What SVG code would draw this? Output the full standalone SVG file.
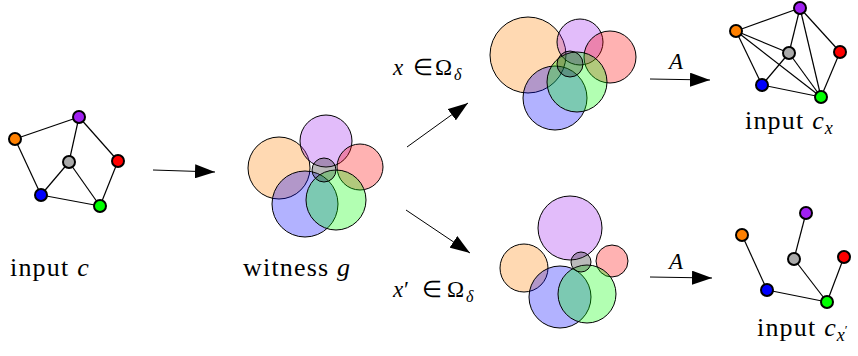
<svg xmlns="http://www.w3.org/2000/svg" width="858" height="356" viewBox="0 0 858 356">
<style>
.e{stroke:#000;stroke-width:1.2;fill:none}
.n{stroke:#000;stroke-width:2}
.c{stroke:#000;stroke-width:1;fill-opacity:0.3}
.a{stroke:#000;stroke-width:1;fill:none;marker-end:url(#ah)}
.t{fill:#000;font-family:'Liberation Serif',serif}
.i{font-style:italic}
.o{fill:#FF8000}.p{fill:#A020F0}.r{fill:#FF0000}.b{fill:#0000FF}.g{fill:#00FF00}.y{fill:#AAAAAA}
.yc{fill:#1A1A1A}
</style>
<defs>
<marker id="ah" markerUnits="userSpaceOnUse" markerWidth="22" markerHeight="14" refX="20" refY="7" orient="auto">
<path d="M0,0 L20,7 L0,14 Z" fill="#000"/>
</marker>
</defs>
<g id="connectors">
<line class="a" x1="153" y1="170" x2="215" y2="172"/>
<line class="a" x1="407" y1="147" x2="468" y2="103"/>
<line class="a" x1="406" y1="210" x2="470" y2="253"/>
<line class="a" x1="650" y1="79" x2="710" y2="80"/>
<line class="a" x1="650" y1="277" x2="712" y2="278"/>
</g>
<g id="input-c">
<g class="e">
<line x1="15" y1="139" x2="79" y2="117"/><line x1="15" y1="139" x2="41" y2="195"/>
<line x1="79" y1="117" x2="69" y2="162"/><line x1="79" y1="117" x2="118" y2="161"/>
<line x1="69" y1="162" x2="41" y2="195"/><line x1="69" y1="162" x2="100" y2="206"/>
<line x1="118" y1="161" x2="100" y2="206"/><line x1="41" y1="195" x2="100" y2="206"/>
</g>
<circle class="n o" cx="15" cy="139" r="6"/><circle class="n p" cx="79" cy="117" r="6"/>
<circle class="n y" cx="69" cy="162" r="6"/><circle class="n r" cx="118" cy="161" r="6"/>
<circle class="n b" cx="41" cy="195" r="6"/><circle class="n g" cx="100" cy="206" r="6"/>
<text class="t" x="10" y="276" font-size="26"><tspan letter-spacing="1.2">input </tspan><tspan class="i">c</tspan></text>
</g>
<g id="witness-g">
<circle class="c o" cx="279" cy="168" r="31"/>
<circle class="c p" cx="326" cy="141" r="26"/>
<circle class="c r" cx="360" cy="167" r="23"/>
<circle class="c b" cx="305" cy="204" r="33"/>
<circle class="c g" cx="336" cy="200" r="30"/>
<circle class="c yc" cx="324" cy="170" r="12"/>
<text class="t" x="243" y="276" font-size="26"><tspan letter-spacing="1.2">witness </tspan><tspan class="i">g</tspan></text>
</g>
<g id="label-x">
<text class="t" y="75" font-size="23"><tspan x="393" class="i">x</tspan><tspan x="413">∈</tspan><tspan x="435">Ω</tspan><tspan x="454" y="80" font-size="16" class="i">δ</tspan></text>
</g>
<g id="label-xp">
<text class="t" y="297" font-size="23"><tspan x="393" class="i">x</tspan><tspan x="404">′</tspan><tspan x="422">∈</tspan><tspan x="447">Ω</tspan><tspan x="466" y="302" font-size="16" class="i">δ</tspan></text>
</g>
<g id="config-x">
<circle class="c o" cx="528" cy="55" r="38"/>
<circle class="c p" cx="580" cy="42" r="23"/>
<circle class="c r" cx="610" cy="57" r="26"/>
<circle class="c b" cx="555" cy="98" r="32"/>
<circle class="c g" cx="577" cy="82" r="30"/>
<circle class="c yc" cx="570" cy="64" r="13"/>
</g>
<g id="config-xp">
<circle class="c p" cx="570" cy="228" r="32"/>
<circle class="c o" cx="524" cy="268" r="24"/>
<circle class="c r" cx="612" cy="261" r="16"/>
<circle class="c b" cx="560" cy="297" r="31"/>
<circle class="c g" cx="587" cy="294" r="29"/>
<circle class="c yc" cx="581" cy="262" r="10"/>
</g>
<g id="label-A-top"><text class="t i" x="669" y="69" font-size="23">A</text></g>
<g id="label-A-bottom"><text class="t i" x="669" y="269" font-size="23">A</text></g>
<g id="input-cx">
<g class="e">
<line x1="736" y1="31" x2="800" y2="8"/><line x1="736" y1="31" x2="762" y2="85"/>
<line x1="736" y1="31" x2="789" y2="53"/><line x1="736" y1="31" x2="821" y2="97"/>
<line x1="800" y1="8" x2="789" y2="53"/><line x1="800" y1="8" x2="821" y2="97"/>
<line x1="800" y1="8" x2="840" y2="52"/><line x1="840" y1="52" x2="821" y2="97"/>
<line x1="789" y1="53" x2="762" y2="85"/><line x1="789" y1="53" x2="821" y2="97"/>
<line x1="762" y1="85" x2="821" y2="97"/>
</g>
<circle class="n o" cx="736" cy="31" r="6"/><circle class="n p" cx="800" cy="8" r="6"/>
<circle class="n y" cx="789" cy="53" r="6"/><circle class="n r" cx="840" cy="52" r="6"/>
<circle class="n b" cx="762" cy="85" r="6"/><circle class="n g" cx="821" cy="97" r="6"/>
<text class="t" x="745" y="129" font-size="26"><tspan letter-spacing="1.2">input </tspan><tspan class="i">c</tspan><tspan class="i" font-size="18" dx="1" dy="5">x</tspan></text>
</g>
<g id="input-cxp">
<g class="e">
<line x1="806" y1="213" x2="794" y2="259"/><line x1="742" y1="235" x2="767" y2="290"/>
<line x1="794" y1="259" x2="827" y2="302"/><line x1="844" y1="257" x2="827" y2="302"/>
<line x1="767" y1="290" x2="827" y2="302"/>
</g>
<circle class="n o" cx="742" cy="235" r="6"/><circle class="n p" cx="806" cy="213" r="6"/>
<circle class="n y" cx="794" cy="259" r="6"/><circle class="n r" cx="844" cy="257" r="6"/>
<circle class="n b" cx="767" cy="290" r="6"/><circle class="n g" cx="827" cy="302" r="6"/>
<text class="t" x="757" y="336" font-size="26"><tspan letter-spacing="1.2">input </tspan><tspan class="i">c</tspan><tspan class="i" font-size="18" dx="1" dy="5">x</tspan><tspan font-size="13" dy="-7">′</tspan></text>
</g>
</svg>
